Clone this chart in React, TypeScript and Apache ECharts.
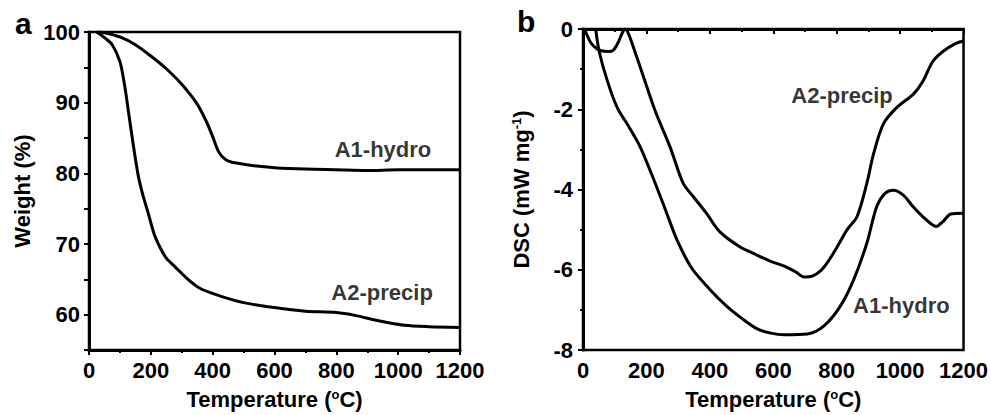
import React, { useEffect, useRef } from "react";
import * as echarts from "echarts";

// Panel a: TGA
const tgaA1Temp = [25, 50, 100, 150, 200, 250, 300, 350, 380, 400, 420, 440, 460, 500, 550, 600, 700, 800, 900, 1000, 1100, 1200];
const tgaA1Weight = [100, 99.9, 99.3, 98.2, 96.6, 94.8, 92.6, 89.8, 87.3, 85.2, 83.0, 82.0, 81.6, 81.3, 81.0, 80.8, 80.6, 80.5, 80.4, 80.5, 80.5, 80.5];
const tgaA2Temp = [25, 50, 75, 100, 115, 130, 145, 160, 175, 190, 210, 230, 250, 280, 320, 360, 420, 500, 600, 700, 800, 860, 940, 1020, 1100, 1200];
const tgaA2Weight = [100, 99.2, 98.2, 95.8, 92.5, 88.0, 83.5, 79.5, 76.8, 74.6, 71.5, 69.5, 68.0, 66.7, 65.0, 63.7, 62.7, 61.7, 61.0, 60.5, 60.3, 59.9, 59.1, 58.5, 58.3, 58.2];

// Panel b: DSC
const dscA2Temp = [5, 25, 45, 60, 80, 95, 110, 125, 134, 145, 160, 192, 228, 275, 316, 348, 389, 431, 493, 545, 592, 635, 670, 697, 723, 750, 770, 800, 833, 864, 895, 916, 947, 989, 1041, 1072, 1103, 1135, 1176, 1200];
const dscA2Value = [0, -0.35, -0.5, -0.55, -0.56, -0.53, -0.35, -0.08, 0, -0.15, -0.48, -1.22, -2.05, -2.95, -3.85, -4.18, -4.59, -5.05, -5.42, -5.62, -5.79, -5.91, -6.05, -6.18, -6.16, -6.02, -5.83, -5.45, -5.0, -4.68, -3.85, -3.12, -2.37, -1.96, -1.63, -1.3, -0.81, -0.56, -0.36, -0.3];
const dscA1Temp = [40, 51, 77, 108, 145, 181, 228, 264, 296, 342, 400, 452, 504, 551, 592, 635, 708, 760, 812, 854, 895, 926, 952, 978, 1010, 1041, 1072, 1114, 1135, 1160, 1200];
const dscA1Value = [0, -0.56, -1.3, -1.96, -2.44, -2.95, -3.85, -4.59, -5.25, -5.95, -6.49, -6.9, -7.23, -7.48, -7.58, -7.62, -7.6, -7.4, -6.9, -6.24, -5.34, -4.43, -4.1, -4.02, -4.14, -4.43, -4.68, -4.92, -4.8, -4.61, -4.59];

// Series label anchors [temperature, value]
const seriesNames = ["A1-hydro", "A2-precip"];
const labelA1Tga = [951, 83.4];
const labelA2Tga = [948, 63.2];
const labelA2Dsc = [817, -1.65];
const labelA1Dsc = [1004, -6.89];

const xTicks = { min: 0, max: 1200, interval: 200 };
const weightAxis = { min: 55, max: 100, interval: 5 };
const dscAxis = { min: -8, max: 0, interval: 2 };

const FONT = "'Liberation Sans', Arial, Helvetica, sans-serif";
const FS = 22;

const zip = (a: number[], b: number[]) => a.map((v, i) => [v, b[i]]);

export default function App() {
  const ref = useRef<HTMLDivElement>(null);
  useEffect(() => {
    if (!ref.current) return;
    const chart = echarts.init(ref.current, null, { renderer: "svg" });
    const axisLine = { show: true, lineStyle: { color: "#000", width: 3 } };
    const axisTick = { show: true, length: 5, lineStyle: { color: "#000", width: 2 } };
    const minorTick = { show: true, splitNumber: 2, length: 3, lineStyle: { color: "#000", width: 2 } };
    const labelStyle = { color: "#000", fontSize: FS, fontWeight: "bold" as const, fontFamily: FONT };
    const nameStyle = {
      color: "#000",
      fontSize: FS,
      fontWeight: "bold" as const,
      fontFamily: FONT,
      rich: {
        sup: { fontSize: 13, fontWeight: "bold" as const, fontFamily: FONT, color: "#000", verticalAlign: "top" as const, padding: [0, 0, 9, 0] },
      },
    };
    const xAxisBase = (gridIndex: number) => ({
      type: "value" as const,
      gridIndex,
      ...xTicks,
      axisLine,
      axisTick,
      minorTick,
      splitLine: { show: false },
      minorSplitLine: { show: false },
      axisLabel: { ...labelStyle, margin: 9, formatter: (v: number) => String(v) },
      name: "Temperature ({sup|o}C)",
      nameLocation: "middle" as const,
      nameGap: 38,
      nameTextStyle: nameStyle,
    });
    const lineSeries = (name: string, data: number[][], xi: number) => ({
      type: "line" as const,
      name,
      xAxisIndex: xi,
      yAxisIndex: xi,
      data,
      showSymbol: false,
      symbol: "none",
      smooth: 0.3,
      lineStyle: { color: "#000", width: 3 },
      silent: true,
    });
    const labelSeries = (name: string, pos: number[], xi: number) => ({
      type: "scatter" as const,
      xAxisIndex: xi,
      yAxisIndex: xi,
      symbolSize: 0,
      silent: true,
      data: [{ value: pos, name }],
      label: {
        show: true,
        position: "inside" as const,
        formatter: "{b}",
        ...labelStyle,
      },
    });
    chart.setOption({
      animation: false,
      backgroundColor: "#fff",
      grid: [
        { left: 89, right: 531, top: 32, bottom: 62, show: true, borderColor: "#000", borderWidth: 2.5 },
        { left: 583, right: 23, top: 29, bottom: 62, show: true, borderColor: "#000", borderWidth: 2.5 },
      ],
      xAxis: [xAxisBase(0), xAxisBase(1)],
      yAxis: [
        {
          type: "value",
          gridIndex: 0,
          ...weightAxis,
          axisLine,
          axisTick,
          splitLine: { show: false },
          axisLabel: {
            ...labelStyle,
            margin: 9,
            formatter: (v: number) => (v % 10 === 0 ? String(v) : ""),
          },
          name: "Weight (%)",
          nameLocation: "middle",
          nameGap: 56,
          nameTextStyle: nameStyle,
        },
        {
          type: "value",
          gridIndex: 1,
          ...dscAxis,
          axisLine,
          axisTick,
          minorTick,
          splitLine: { show: false },
          minorSplitLine: { show: false },
          axisLabel: { ...labelStyle, margin: 10 },
          name: "DSC (mW mg{sup|-1})",
          nameLocation: "middle",
          nameGap: 51,
          nameTextStyle: nameStyle,
        },
      ],
      graphic: [
        { type: "text", left: 15, top: 8, style: { text: "a", fill: "#000", fontSize: 30, fontWeight: "bold", fontFamily: FONT } },
        { type: "text", left: 517, top: 6, style: { text: "b", fill: "#000", fontSize: 30, fontWeight: "bold", fontFamily: FONT } },
      ],
      series: [
        lineSeries(seriesNames[0], zip(tgaA1Temp, tgaA1Weight), 0),
        lineSeries(seriesNames[1], zip(tgaA2Temp, tgaA2Weight), 0),
        lineSeries(seriesNames[1], zip(dscA2Temp, dscA2Value), 1),
        lineSeries(seriesNames[0], zip(dscA1Temp, dscA1Value), 1),
        labelSeries(seriesNames[0], labelA1Tga, 0),
        labelSeries(seriesNames[1], labelA2Tga, 0),
        labelSeries(seriesNames[1], labelA2Dsc, 1),
        labelSeries(seriesNames[0], labelA1Dsc, 1),
      ],
    });
    return () => chart.dispose();
  }, []);
  return (
    <div
      ref={ref}
      style={{ position: "fixed", left: 0, top: 0, width: 991, height: 415, background: "#fff" }}
    />
  );
}
